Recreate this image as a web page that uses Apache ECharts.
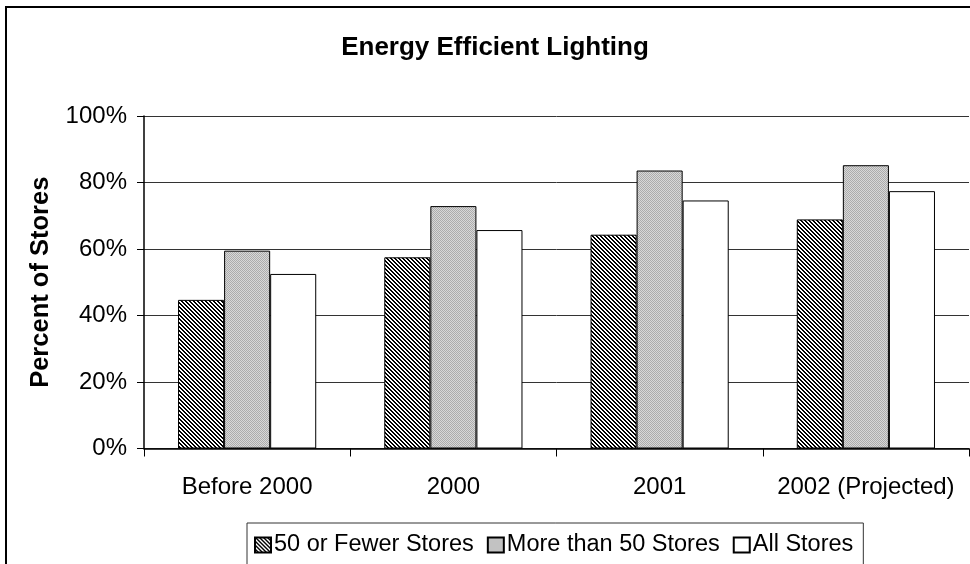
<!DOCTYPE html>
<html>
<head>
<meta charset="utf-8">
<script src="https://cdn.jsdelivr.net/npm/echarts@6/dist/echarts.min.js"></script>
<style>
html,body{margin:0;padding:0;background:#fff;}
#chart{width:970px;height:564px;}
</style>
</head>
<body>
<div id="chart"></div>
<script>
const categories = ['Before 2000', '2000', '2001', '2002 (Projected)'];
const fewerStores = [44.7, 57.5, 64.3, 68.9];
const moreStores = [59.5, 72.9, 83.6, 85.2];
const allStores = [52.5, 65.7, 74.6, 77.4];
const seriesNames = ['50 or Fewer Stores', 'More than 50 Stores', 'All Stores'];
const yTicks = [0, 20, 40, 60, 80, 100];

function hatchTile() {
  const c = document.createElement('canvas');
  c.width = 4; c.height = 4;
  const g = c.getContext('2d');
  g.fillStyle = '#fff'; g.fillRect(0, 0, 4, 4);
  g.fillStyle = '#000';
  for (let y = 0; y < 4; y++) for (let x = 0; x < 4; x++) {
    if ((((x - y) % 4) + 4) % 4 < 2) g.fillRect(x, y, 1, 1);
  }
  return c;
}
function grayTile() {
  const c = document.createElement('canvas');
  c.width = 2; c.height = 2;
  const g = c.getContext('2d');
  g.fillStyle = '#d8d8d8'; g.fillRect(0, 0, 2, 2);
  g.fillStyle = '#acacac';
  g.fillRect(0, 0, 1, 1); g.fillRect(1, 1, 1, 1);
  return c;
}
const fills = [
  { image: hatchTile(), repeat: 'repeat' },
  { image: grayTile(), repeat: 'repeat' },
  '#ffffff'
];
const values = [fewerStores, moreStores, allStores];

const chart = echarts.init(document.getElementById('chart'), null, { renderer: 'canvas' });
const FONT = '"Liberation Sans", Arial, sans-serif';
chart.setOption({
  backgroundColor: '#fff',
  animation: false,
  title: {
    text: 'Energy Efficient Lighting',
    left: 490, textAlign: 'center', top: 30,
    textStyle: { fontFamily: FONT, fontSize: 26, fontWeight: 'bold', color: '#000' }
  },
  graphic: [{
    type: 'rect', silent: true, z: -1,
    shape: { x: 6, y: 7, width: 1000, height: 600 },
    style: { fill: 'none', stroke: '#000', lineWidth: 2 }
  }],
  legend: {
    left: 247, top: 523,
    padding: [10, 10, 12, 7],
    itemGap: 13, itemWidth: 16, itemHeight: 15,
    borderColor: '#333', borderWidth: 1,
    icon: 'rect',
    textStyle: { fontFamily: FONT, fontSize: 23.5, color: '#000', padding: [0, 0, 0, -2] },
    data: seriesNames
  },
  grid: { left: 144, top: 116, width: 825, height: 332.5, containLabel: false },
  xAxis: {
    type: 'category', data: categories,
    axisLine: { lineStyle: { color: '#000', width: 1.5 } },
    axisTick: { show: true, interval: 0, length: 8, lineStyle: { color: '#000' } },
    axisLabel: { interval: 0, fontFamily: FONT, fontSize: 24, color: '#000', margin: 27 },
    splitLine: { show: false }
  },
  yAxis: {
    type: 'value', min: 0, max: 100, interval: 20,
    name: 'Percent of Stores', nameLocation: 'middle', nameGap: 90,
    nameTextStyle: { fontFamily: FONT, fontSize: 25.5, fontWeight: 'bold', color: '#000' },
    axisLine: { show: true, lineStyle: { color: '#000', width: 1.5 } },
    axisTick: { show: true, length: 7, lineStyle: { color: '#000' } },
    axisLabel: { fontFamily: FONT, fontSize: 24, color: '#000', margin: 17,
      formatter: v => v + '%' },
    splitLine: { show: true, lineStyle: { color: '#333', width: 1 } }
  },
  series: seriesNames.map((n, i) => ({
    name: n, type: 'bar', data: values[i],
    barGap: '0%', barCategoryGap: '33%',
    itemStyle: { color: fills[i], borderColor: '#000', borderWidth: 1 }
  }))
});
</script>
</body>
</html>
